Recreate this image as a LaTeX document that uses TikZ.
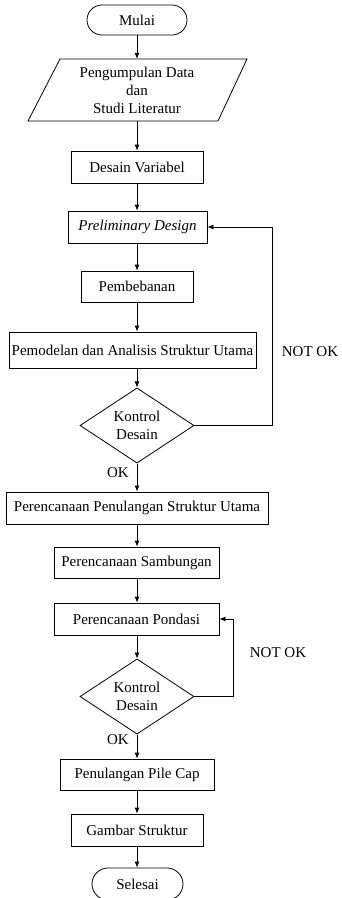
\documentclass[tikz,border=0pt]{standalone}
\usepackage{fontspec}
\setmainfont{Liberation Serif}
\usetikzlibrary{shapes.geometric,arrows.meta}
\begin{document}
\begin{tikzpicture}[x=1pt,y=-1pt,
  every node/.style={font=\fontsize{15}{18}\selectfont, inner sep=0pt},
  box/.style={draw, line width=0.8pt, rectangle, align=center},
  term/.style={draw, line width=0.8pt, rectangle, rounded corners=15pt, align=center},
  dec/.style={draw, line width=0.8pt, diamond, align=center, minimum width=114pt, minimum height=65pt},
  arr/.style={line width=0.8pt, -{Latex[length=6pt,width=5pt]}},
  lbl/.style={font=\fontsize{15}{18}\selectfont}]
\useasboundingbox (0,0) rectangle (342,898);
\node[term, minimum width=100pt, minimum height=30pt] (mulai) at (137,20) {Mulai};
\draw[line width=0.8pt] (60,59) -- (247,59) -- (218,121) -- (28,121) -- cycle;
\node[minimum height=62pt, align=center] (par) at (137,90) {Pengumpulan Data\\dan\\Studi Literatur};
\node[box, minimum width=132pt, minimum height=32pt] (dv) at (137,167) {Desain Variabel};
\node[box, minimum width=139pt, minimum height=32pt] (pre) at (137.5,227) {\textit{Preliminary Design}};
\node[box, minimum width=112pt, minimum height=31pt] (pem) at (137,286.5) {Pembebanan};
\node[box, minimum width=247pt, minimum height=36pt] (mod) at (132.5,350) {Pemodelan dan Analisis Struktur Utama};
\node[dec] (d1) at (137,425.5) {Kontrol\\Desain};
\node[box, minimum width=262pt, minimum height=32pt] (ppsu) at (137,508) {Perencanaan Penulangan Struktur Utama};
\node[box, minimum width=165pt, minimum height=31pt] (sam) at (136.5,562.5) {Perencanaan Sambungan};
\node[box, minimum width=165pt, minimum height=32pt] (pon) at (136.5,619) {Perencanaan Pondasi};
\node[dec] (d2) at (137,696.5) {Kontrol\\Desain};
\node[box, minimum width=154pt, minimum height=31pt] (pile) at (137,774.5) {Penulangan Pile Cap};
\node[box, minimum width=132pt, minimum height=32pt] (gam) at (137,830) {Gambar Struktur};
\node[term, minimum width=91pt, minimum height=32pt, rounded corners=16pt] (sel) at (137.5,884) {Selesai};

\node[lbl] (ok1) at (118,473) {OK};
\node[lbl] (ok2) at (118,740) {OK};
\node[lbl] (nok1) at (310,352) {NOT OK};
\node[lbl] (nok2) at (278,653) {NOT OK};

\draw[arr] (mulai.south) -- (par.north);
\draw[arr] (par.south) -- (dv.north);
\draw[arr] (dv.south) -- (dv.south |- pre.north);
\draw[arr] (dv.south |- pre.south) -- (dv.south |- pem.north);
\draw[arr] (pem.south) -- (pem.south |- mod.north);
\draw[arr] (pem.south |- mod.south) -- (d1.north);
\draw[arr] (d1.south) -- (ppsu.north);
\draw[arr] (d1.south |- ppsu.south) -- (d1.south |- sam.north);
\draw[arr] (d1.south |- sam.south) -- (d1.south |- pon.north);
\draw[arr] (d1.south |- pon.south) -- (d2.north);
\draw[arr] (d2.south) -- (pile.north);
\draw[arr] (pile.south) -- (gam.north);
\draw[arr] (gam.south) -- (gam.south |- sel.north);
\draw[arr] (d1.east) -- ++(78,0) |- (pre.east);
\draw[arr] (d2.east) -- ++(39,0) |- (pon.east);
\end{tikzpicture}
\end{document}
